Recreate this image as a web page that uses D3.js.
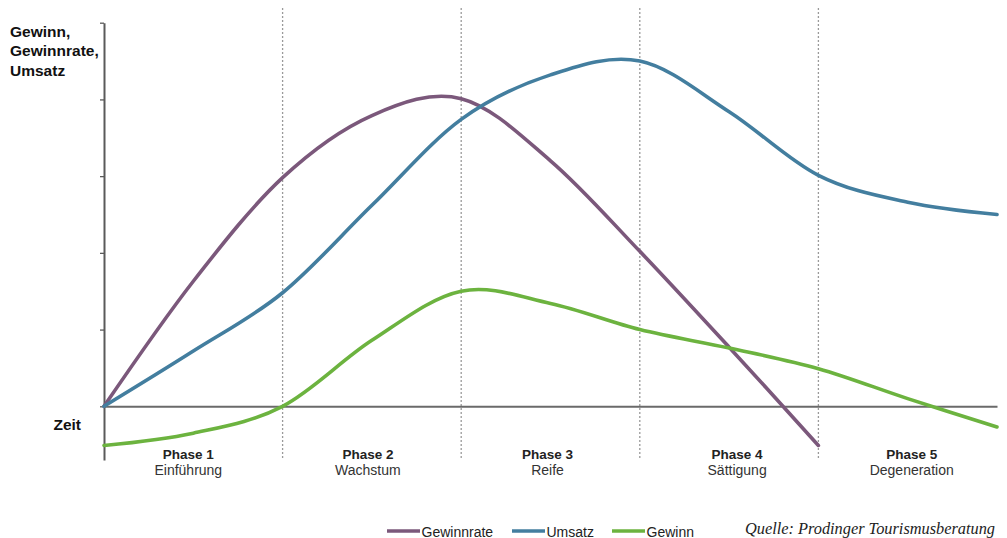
<!DOCTYPE html>
<html>
<head>
<meta charset="utf-8">
<script src="https://cdn.jsdelivr.net/npm/d3@7"></script>
<style>
  html, body { margin: 0; padding: 0; background: #fff; }
  svg { display: block; font-family: "Liberation Sans", Arial, Helvetica, sans-serif; }
</style>
</head>
<body>
<svg id="chart" width="1007" height="538"></svg>
<script>
// ---- Data (x in phase units 0..5, y in axis tick units) ----
const phases = ["Phase 1", "Phase 2", "Phase 3", "Phase 4", "Phase 5"];
const phaseNames = ["Einführung", "Wachstum", "Reife", "Sättigung", "Degeneration"];
const yTicks = [0, 1, 2, 3, 4, 5];

const tGewinnrate = [0, 0.5, 1, 1.5, 2, 2.5, 3, 3.5, 4];
const gewinnrate  = [0, 1.63, 2.98, 3.79, 4.01, 3.2, 2.02, 0.77, -0.51];

const tUmsatz = [0, 0.5, 1, 1.5, 2, 2.5, 3, 3.5, 4, 4.5, 5];
const umsatz  = [0, 0.72, 1.48, 2.62, 3.74, 4.32, 4.50, 3.84, 3.01, 2.66, 2.50];

const tGewinn = [0, 0.5, 1, 1.5, 2, 2.5, 3, 3.5, 4, 4.5, 5];
const gewinn  = [-0.51, -0.35, 0, 0.86, 1.50, 1.34, 1.0, 0.76, 0.49, 0.10, -0.27];

const seriesNames = ["Gewinnrate", "Umsatz", "Gewinn"];
const seriesColors = ["#7b587b", "#437e9f", "#6cb33f"];

// ---- Layout ----
const svg = d3.select("#chart");
const x = d3.scaleLinear().domain([0, 5]).range([104, 997]);
const y = d3.scaleLinear().domain([-0.7, 5]).range([460, 22.7]);

// phase dividers
svg.append("g").selectAll("line")
  .data([1, 2, 3, 4])
  .join("line")
  .attr("x1", d => x(d)).attr("x2", d => x(d))
  .attr("y1", 8).attr("y2", 460)
  .attr("stroke", "#9a9a9a")
  .attr("stroke-width", 1.3)
  .attr("stroke-dasharray", "2,2");

// zero line (time axis)
const xAxis = d3.axisBottom(x).tickValues([]).tickSizeOuter(0);
svg.append("g")
  .attr("transform", `translate(0,${y(0)})`)
  .call(xAxis)
  .call(g => g.select(".domain").attr("stroke", "#6a6a6a").attr("stroke-width", 2));

// y axis
const yAxis = d3.axisLeft(y).tickValues(yTicks).tickSize(4).tickSizeOuter(0).tickFormat("");
svg.append("g")
  .attr("transform", `translate(${x(0)},0)`)
  .call(yAxis)
  .call(g => g.select(".domain").attr("stroke", "#5a5a5a").attr("stroke-width", 2))
  .call(g => g.selectAll(".tick line").attr("stroke", "#5a5a5a").attr("stroke-width", 1.3));

// curves
const data = [
  tGewinnrate.map((t, i) => [t, gewinnrate[i]]),
  tUmsatz.map((t, i) => [t, umsatz[i]]),
  tGewinn.map((t, i) => [t, gewinn[i]])
];
const line = d3.line()
  .x(d => x(d[0]))
  .y(d => y(d[1]))
  .curve(d3.curveCatmullRom.alpha(0));

svg.append("g").selectAll("path")
  .data(data)
  .join("path")
  .attr("d", line)
  .attr("fill", "none")
  .attr("stroke", (d, i) => seriesColors[i])
  .attr("stroke-width", 3.6)
  .attr("stroke-linecap", "round")
  .attr("stroke-linejoin", "round");

// y axis title
const yTitle = ["Gewinn,", "Gewinnrate,", "Umsatz"];
svg.append("g").selectAll("text")
  .data(yTitle)
  .join("text")
  .attr("x", 10)
  .attr("y", (d, i) => 36.5 + i * 19.5)
  .attr("font-size", "15.5px")
  .attr("font-weight", "bold")
  .attr("fill", "#111")
  .text(d => d);

svg.append("text")
  .attr("x", 81).attr("y", 430)
  .attr("text-anchor", "end")
  .attr("font-size", "15.5px")
  .attr("font-weight", "bold")
  .attr("fill", "#111")
  .text("Zeit");

// phase labels
const labelShift = [-5, -4, -3, 8, 4];
const pl = svg.append("g").selectAll("g")
  .data(phases)
  .join("g")
  .attr("transform", (d, i) => `translate(${x(i + 0.5) + labelShift[i]},0)`);
pl.append("text")
  .attr("y", 458.5)
  .attr("text-anchor", "middle")
  .attr("font-size", "13.5px")
  .attr("font-weight", "bold")
  .attr("fill", "#222")
  .text(d => d);
pl.append("text")
  .attr("y", 475)
  .attr("text-anchor", "middle")
  .attr("font-size", "14px")
  .attr("fill", "#333")
  .text((d, i) => phaseNames[i]);

// legend
const legendX = [387, 512, 612];
const lg = svg.append("g").selectAll("g")
  .data(seriesNames)
  .join("g")
  .attr("transform", (d, i) => `translate(${legendX[i]},531)`);
lg.append("line")
  .attr("x1", 0).attr("x2", 33)
  .attr("stroke", (d, i) => seriesColors[i])
  .attr("stroke-width", 3.4);
lg.append("text")
  .attr("x", 34.5).attr("y", 5.5)
  .attr("font-size", "14px")
  .attr("fill", "#222")
  .text(d => d);

// source
svg.append("text")
  .attr("x", 745).attr("y", 533.5)
  .attr("font-family", "'Liberation Serif', 'Times New Roman', serif")
  .attr("font-style", "italic")
  .attr("font-size", "16px")
  .attr("fill", "#222")
  .attr("textLength", 250)
  .attr("lengthAdjust", "spacingAndGlyphs")
  .text("Quelle: Prodinger Tourismusberatung");
</script>
</body>
</html>
